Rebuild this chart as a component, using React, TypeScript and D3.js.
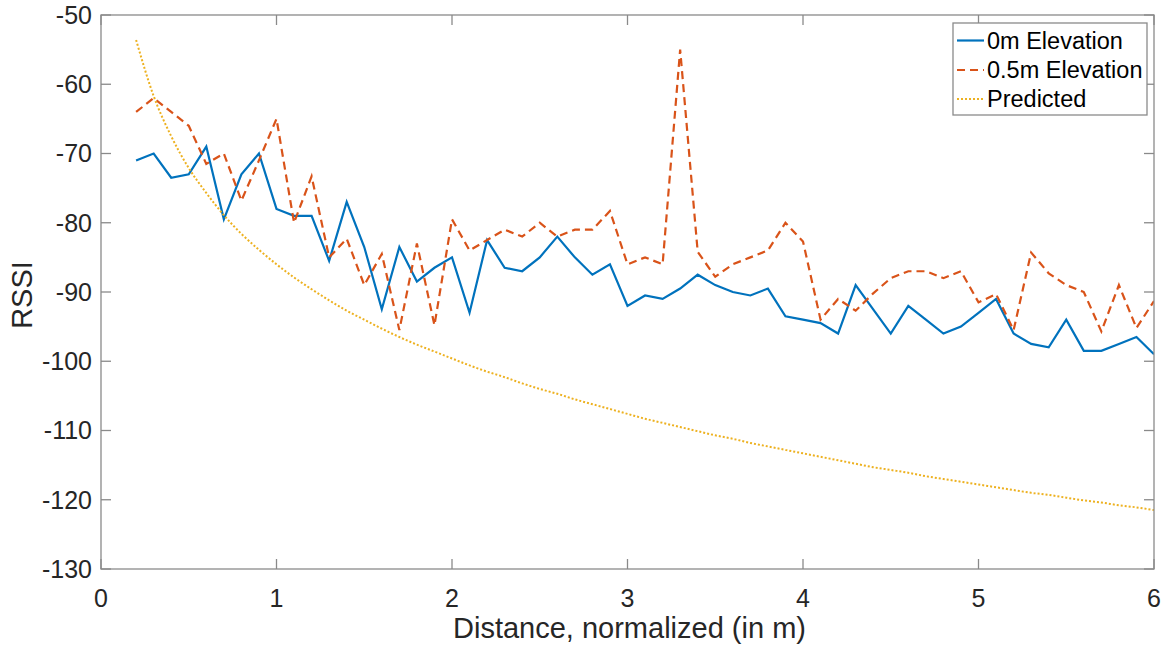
import React from "react";
import * as d3 from "d3";

const distances = [
  0.2, 0.3, 0.4, 0.5, 0.6, 0.7, 0.8, 0.9, 1.0, 1.1, 1.2, 1.3, 1.4, 1.5, 1.6, 1.7, 1.8, 1.9, 2.0,
  2.1, 2.2, 2.3, 2.4, 2.5, 2.6, 2.7, 2.8, 2.9, 3.0, 3.1, 3.2, 3.3, 3.4, 3.5, 3.6, 3.7, 3.8, 3.9, 4.0,
  4.1, 4.2, 4.3, 4.4, 4.5, 4.6, 4.7, 4.8, 4.9, 5.0, 5.1, 5.2, 5.3, 5.4, 5.5, 5.6, 5.7, 5.8, 5.9, 6.0,
];

const elev0 = [
  -71, -70, -73.5, -73, -69, -79.5, -73, -70, -78, -79, -79, -85.5, -77, -83.5, -92.5, -83.5, -88.5, -86.5, -85,
  -93, -82.5, -86.5, -87, -85, -82, -85, -87.5, -86, -92, -90.5, -91, -89.5, -87.5, -89, -90, -90.5, -89.5, -93.5, -94,
  -94.5, -96, -89, -92.5, -96, -92, -94, -96, -95, -93, -91, -96, -97.5, -98, -94, -98.5, -98.5, -97.5, -96.5, -99,
];

const elev05 = [
  -64, -62, -64, -66, -71.5, -70, -76.8, -71, -65, -80, -73.3, -85, -82.3, -89, -84.5, -95.5, -83, -94.8, -79.5,
  -84, -82.5, -81, -82, -80, -82, -81, -81, -78.3, -86, -85, -86, -55, -84.2, -87.8, -86, -85, -84, -80, -82.7,
  -94, -91, -92.7, -90.2, -88, -87, -87, -88, -87, -91.5, -90.3, -95.5, -84.3, -87.3, -89, -90, -95.7, -89, -95.2, -91.3,
];

const predicted = [
  -53.6, -61.7, -67.5, -72.1, -75.7, -78.9, -81.6, -83.9, -86.0, -87.9, -89.6, -91.2, -92.7, -94.0, -95.3, -96.5, -97.6, -98.6, -99.6,
  -100.6, -101.5, -102.3, -103.2, -104.0, -104.7, -105.5, -106.2, -106.9, -107.6, -108.3, -108.9, -109.5, -110.1, -110.7, -111.2, -111.8, -112.3, -112.8, -113.3,
  -113.8, -114.3, -114.8, -115.3, -115.7, -116.1, -116.6, -117.0, -117.4, -117.8, -118.2, -118.6, -119.0, -119.3, -119.7, -120.1, -120.4, -120.8, -121.1, -121.5,
];

const xTicks = [0, 1, 2, 3, 4, 5, 6];
const yTicks = [-130, -120, -110, -100, -90, -80, -70, -60, -50];

const seriesNames = ["0m Elevation", "0.5m Elevation", "Predicted"];
const seriesColors = ["#0072BD", "#D95319", "#EDB120"];

const W = 1167;
const H = 649;
const left = 101;
const right = 1154;
const top = 15;
const bottom = 569;

export default function App() {
  const x = d3.scaleLinear().domain([0, 6]).range([left, right]);
  const y = d3.scaleLinear().domain([-130, -50]).range([bottom, top]);

  const line = d3
    .line<[number, number]>()
    .x((d) => x(d[0]))
    .y((d) => y(d[1]));
  const smooth = d3
    .line<[number, number]>()
    .x((d) => x(d[0]))
    .y((d) => y(d[1]))
    .curve(d3.curveMonotoneX);

  const p0 = line(distances.map((d, i) => [d, elev0[i]] as [number, number])) || "";
  const p05 = line(distances.map((d, i) => [d, elev05[i]] as [number, number])) || "";
  const pPred = smooth(distances.map((d, i) => [d, predicted[i]] as [number, number])) || "";

  const axisColor = "#8a8a8a";
  const textColor = "#262626";
  const font = "'Liberation Sans', Arial, Helvetica, sans-serif";
  const tickLen = 10;

  const legX = 953;
  const legY = 23;
  const legW = 194;
  const legH = 92;
  const rowYs = [40.5, 70, 99];
  const dashes = ["none", "8 5", "2 2"];
  const widths = [2.2, 2.2, 2];

  return (
    <svg
      width={W}
      height={H}
      style={{ position: "absolute", left: 0, top: 0, background: "#fff" }}
      fontFamily={font}
    >
      <rect x={0} y={0} width={W} height={H} fill="#fff" />
      <defs>
        <clipPath id="plotclip">
          <rect x={left} y={top} width={right - left} height={bottom - top} />
        </clipPath>
      </defs>
      <g clipPath="url(#plotclip)">
        <path d={p0} fill="none" stroke={seriesColors[0]} strokeWidth={2.2} />
        <path d={p05} fill="none" stroke={seriesColors[1]} strokeWidth={2.2} strokeDasharray="8 5" />
        <path d={pPred} fill="none" stroke={seriesColors[2]} strokeWidth={2} strokeDasharray="2 2" />
      </g>

      <rect x={left} y={top} width={right - left} height={bottom - top} fill="none" stroke={axisColor} strokeWidth={1.3} />
      {xTicks.map((t) => (
        <g key={"xt" + t}>
          <line x1={x(t)} x2={x(t)} y1={bottom} y2={bottom - tickLen} stroke={axisColor} strokeWidth={1.3} />
          <line x1={x(t)} x2={x(t)} y1={top} y2={top + tickLen} stroke={axisColor} strokeWidth={1.3} />
          <text x={x(t)} y={607} textAnchor="middle" fontSize={25} fill={textColor}>
            {t}
          </text>
        </g>
      ))}
      {yTicks.map((t) => (
        <g key={"yt" + t}>
          <line x1={left} x2={left + tickLen} y1={y(t)} y2={y(t)} stroke={axisColor} strokeWidth={1.3} />
          <line x1={right} x2={right - tickLen} y1={y(t)} y2={y(t)} stroke={axisColor} strokeWidth={1.3} />
          <text x={92} y={y(t)} dy="0.35em" textAnchor="end" fontSize={25} fill={textColor}>
            {t}
          </text>
        </g>
      ))}

      <text x={(left + right) / 2 + 2} y={638} textAnchor="middle" fontSize={29} fill={textColor}>
        Distance, normalized (in m)
      </text>
      <text
        transform={`translate(32, ${(top + bottom) / 2 + 3}) rotate(-90)`}
        textAnchor="middle"
        fontSize={29}
        fill={textColor}
      >
        RSSI
      </text>

      <rect x={legX} y={legY} width={legW} height={legH} fill="#fff" stroke={axisColor} strokeWidth={1.3} />
      {seriesNames.map((name, i) => (
        <g key={name}>
          <line
            x1={957}
            x2={984}
            y1={rowYs[i]}
            y2={rowYs[i]}
            stroke={seriesColors[i]}
            strokeWidth={widths[i]}
            strokeDasharray={dashes[i]}
          />
          <text x={987} y={rowYs[i]} dy="0.35em" fontSize={23.5} fill="#000">
            {name}
          </text>
        </g>
      ))}
    </svg>
  );
}
